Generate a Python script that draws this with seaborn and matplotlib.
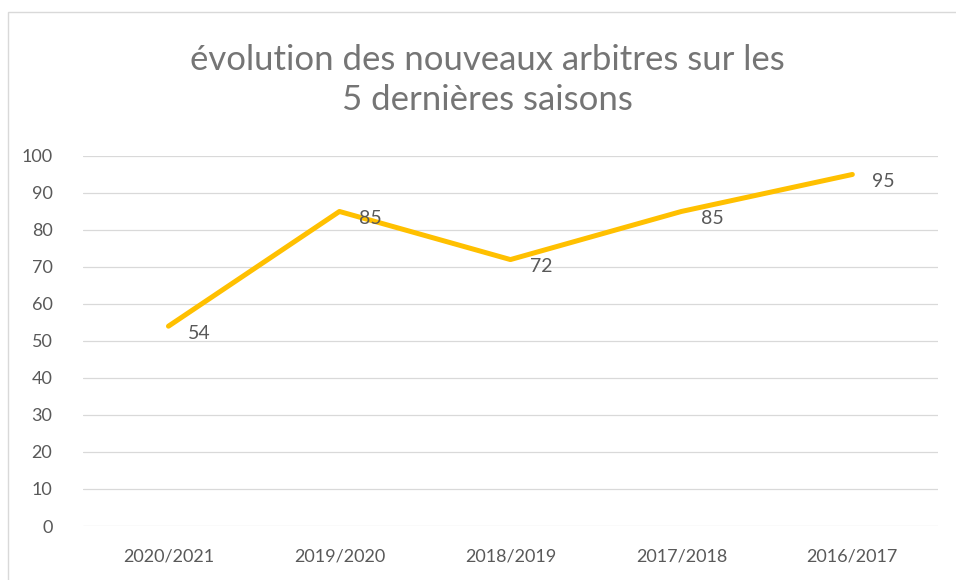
import pandas as pd
import seaborn as sns
import matplotlib.pyplot as plt
from matplotlib.patches import Rectangle

# saisons (ordre du graphique) et nombre de nouveaux arbitres
saisons = ["2020/2021", "2019/2020", "2018/2019", "2017/2018", "2016/2017"]
arbitres = [54, 85, 72, 85, 95]
y_ticks = [0, 10, 20, 30, 40, 50, 60, 70, 80, 90, 100]

df = pd.DataFrame({"saison": saisons, "arbitres": arbitres})

sns.set_theme(style="white")
plt.rcParams["font.family"] = ["Lato", "DejaVu Sans"]

gris = "#595959"
fig = plt.figure(figsize=(9.56, 5.8), dpi=100)
ax = fig.add_axes([0.0868, 0.0931, 0.8942, 0.638])

sns.lineplot(data=df, x="saison", y="arbitres", sort=False, ax=ax,
             color="#FFC000", linewidth=3.6, solid_capstyle="round")

# étiquettes de données à droite des points
for i, v in enumerate(arbitres):
    ax.annotate(str(v), (i, v), xytext=(14, -5), textcoords="offset points",
                ha="left", va="center", fontsize=14, color=gris)

ax.set_xlim(-0.5, len(saisons) - 0.5)
ax.set_ylim(0, 100)
ax.set_yticks(y_ticks)
ax.yaxis.grid(True, color="#D9D9D9", linewidth=0.9)
ax.set_axisbelow(True)
ax.set_xlabel("")
ax.set_ylabel("")
ax.tick_params(axis="both", length=0, colors=gris, labelsize=13)
ax.tick_params(axis="x", pad=16)
ax.tick_params(axis="y", pad=22)
for s in ax.spines.values():
    s.set_visible(False)

fig.text(0.510, 0.862, "évolution des nouveaux arbitres sur les\n5 dernières saisons",
         ha="center", va="center", fontsize=25, color="#757575", linespacing=1.33)

# cadre du graphique
fig.patches.append(Rectangle((8 / 956, -0.05), 1.2, 1.05 - 12 / 580,
                             transform=fig.transFigure, fill=False,
                             edgecolor="#D9D9D9", linewidth=1))

fig.savefig("out.png", dpi=100)
